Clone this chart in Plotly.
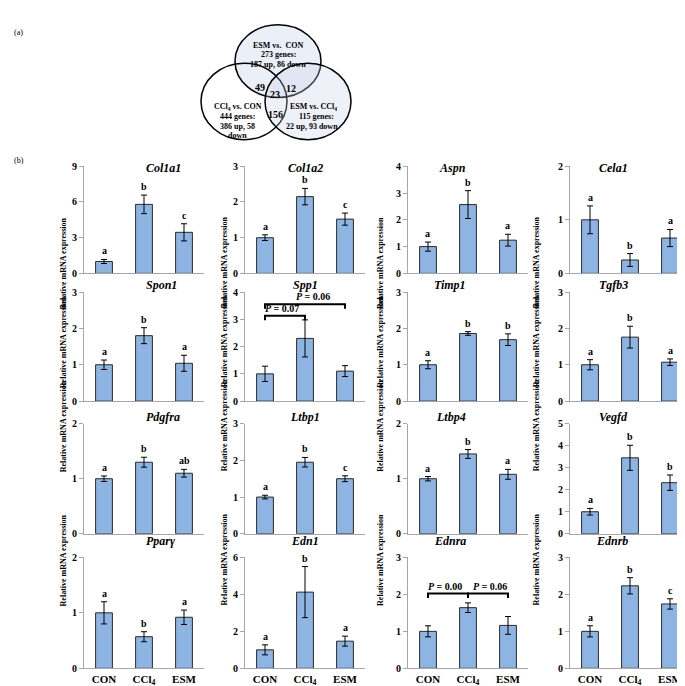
import plotly.graph_objects as go

W, H = 685, 686
FONT = "Liberation Serif"

# ---------------- data ----------------
genes = ["Col1a1", "Col1a2", "Aspn", "Cela1",
         "Spon1", "Spp1", "Timp1", "Tgfb3",
         "Pdgfra", "Ltbp1", "Ltbp4", "Vegfd",
         "Pparγ", "Edn1", "Ednra", "Ednrb"]
groups = ["CON", "CCl<sub>4</sub>", "ESM"]

col1a1 = [1.0, 5.8, 3.45];   col1a1_err = [0.17, 0.78, 0.72]
col1a2 = [1.0, 2.15, 1.52];  col1a2_err = [0.08, 0.23, 0.17]
aspn = [1.0, 2.57, 1.24];    aspn_err = [0.17, 0.52, 0.22]
cela1 = [1.0, 0.25, 0.66];   cela1_err = [0.26, 0.12, 0.16]
spon1 = [1.0, 1.8, 1.04];    spon1_err = [0.13, 0.22, 0.22]
spp1 = [1.0, 2.3, 1.1];      spp1_err = [0.28, 0.68, 0.2]
timp1 = [1.0, 1.86, 1.69];   timp1_err = [0.11, 0.05, 0.16]
tgfb3 = [1.0, 1.76, 1.07];   tgfb3_err = [0.14, 0.3, 0.09]
pdgfra = [1.0, 1.3, 1.1];    pdgfra_err = [0.05, 0.09, 0.07]
ltbp1 = [1.0, 1.95, 1.5];    ltbp1_err = [0.05, 0.13, 0.08]
ltbp4 = [1.0, 1.45, 1.08];   ltbp4_err = [0.04, 0.08, 0.09]
vegfd = [1.0, 3.45, 2.32];   vegfd_err = [0.15, 0.57, 0.35]
pparg = [1.0, 0.57, 0.92];   pparg_err = [0.2, 0.09, 0.13]
edn1 = [1.0, 4.12, 1.47];    edn1_err = [0.27, 1.38, 0.27]
ednra = [1.0, 1.64, 1.16];   ednra_err = [0.15, 0.13, 0.24]
ednrb = [1.0, 2.23, 1.74];   ednrb_err = [0.15, 0.22, 0.14]

means = [col1a1, col1a2, aspn, cela1, spon1, spp1, timp1, tgfb3,
         pdgfra, ltbp1, ltbp4, vegfd, pparg, edn1, ednra, ednrb]
errors = [col1a1_err, col1a2_err, aspn_err, cela1_err, spon1_err, spp1_err,
          timp1_err, tgfb3_err, pdgfra_err, ltbp1_err, ltbp4_err, vegfd_err,
          pparg_err, edn1_err, ednra_err, ednrb_err]

letters = [["a", "b", "c"], ["a", "b", "c"], ["a", "b", "a"], ["a", "b", "a"],
           ["a", "b", "a"], [], ["a", "b", "b"], ["a", "b", "a"],
           ["a", "b", "ab"], ["a", "b", "c"], ["a", "b", "a"], ["a", "b", "b"],
           ["a", "b", "a"], ["a", "b", "a"], [], ["a", "b", "c"]]

y_max = [9, 3, 4, 2, 3, 4, 3, 3, 2, 3, 2, 5, 2, 6, 3, 3]
y_step = [3, 1, 1, 1, 1, 1, 1, 1, 1, 1, 1, 1, 1, 2, 1, 1]

# P-value brackets: (panel index, from group, to group, level, label, label x)
brackets = [(5, 0, 1, 3.13, "<i>P</i> = 0.07", 0.42),
            (5, 0, 2, 3.55, "<i>P</i> = 0.06", 1.2),
            (14, 0, 1, 2.02, "<i>P</i> = 0.00", 0.42),
            (14, 1, 2, 2.02, "<i>P</i> = 0.06", 1.55)]

venn_lines = ["ESM vs.  CON", "273 genes:", "187 up, 86 down",
              "CCl<sub>4</sub> vs. CON", "444 genes:", "386 up, 58", "down",
              "ESM vs. CCl<sub>4</sub>", "115 genes:", "22 up, 93 down"]
venn_counts = ["49", "23", "12", "156"]

# ---------------- layout geometry (pixels) ----------------
col_left = [76, 237, 400, 562]
plot_w = 120
rows_px = [(155, 264), (283, 394), (417, 529), (553, 666)]


def px(x):
    return x / W


def py(y):
    return 1 - y / H


fig = go.Figure()
layout = {}
annotations = []
shapes = []
bold = dict(family=FONT, color="black", weight="bold")

for k, g in enumerate(genes):
    r, c = divmod(k, 4)
    idx = k + 1
    xa = "x" if idx == 1 else f"x{idx}"
    ya = "y" if idx == 1 else f"y{idx}"
    x0 = col_left[c]
    yt, yb = rows_px[r]
    fig.add_trace(go.Bar(
        x=[0, 1, 2], y=means[k], width=0.42,
        error_y=dict(type="data", array=errors[k], color="black",
                     thickness=1, width=3),
        marker=dict(color="#8DB4E2", line=dict(color="#2a2a2a", width=1)),
        xaxis=xa, yaxis=ya, showlegend=False, hoverinfo="skip"))
    bottom = (r == 3)
    layout["xaxis" if idx == 1 else f"xaxis{idx}"] = dict(
        domain=[px(x0), px(x0 + plot_w)], range=[-0.5, 2.5], anchor=ya,
        showline=True, linecolor="#a6a6a6", linewidth=1, ticks="",
        tickmode="array",
        tickvals=[0, 1, 2] if bottom else [],
        ticktext=groups if bottom else [],
        showticklabels=bottom,
        tickfont=dict(size=11, **bold), showgrid=False, zeroline=False)
    layout["yaxis" if idx == 1 else f"yaxis{idx}"] = dict(
        domain=[py(yb), py(yt)], range=[0, y_max[k]], dtick=y_step[k], tick0=0,
        anchor=xa, showline=True, linecolor="#a6a6a6", linewidth=1,
        ticks="outside", ticklen=4, tickcolor="#a6a6a6",
        tickfont=dict(size=10, **bold), showgrid=False, zeroline=False)
    # gene title
    annotations.append(dict(x=px(x0 + plot_w / 2), y=py(yt - 7), xref="paper",
                            yref="paper", text=f"<i>{g}</i>", showarrow=False,
                            font=dict(size=12, **bold)))
    # y-axis title
    annotations.append(dict(x=px(x0 - 27), y=py((yt + yb) / 2 - 5), xref="paper",
                            yref="paper", text="Relative mRNA expression",
                            textangle=-90, showarrow=False,
                            font=dict(size=8, **bold)))
    for i, lt in enumerate(letters[k]):
        annotations.append(dict(x=i, y=means[k][i] + errors[k][i], xref=xa, yref=ya,
                                text=lt, showarrow=False, yanchor="bottom", yshift=1,
                                font=dict(size=10, **bold)))

for (k, a, b, lvl, lab, lx) in brackets:
    idx = k + 1
    xa = f"x{idx}"
    ya = f"y{idx}"
    drop = y_max[k] * 0.04
    shapes.append(dict(type="path", xref=xa, yref=ya,
                       path=f"M {a},{lvl - drop} L {a},{lvl} L {b},{lvl} L {b},{lvl - drop}",
                       line=dict(color="black", width=2)))
    annotations.append(dict(x=lx, y=lvl, xref=xa, yref=ya, text=lab,
                            showarrow=False, yanchor="bottom", yshift=0,
                            font=dict(size=10, **bold)))

# ---------------- Venn diagram ----------------
def circle(cx, cy, rx, ry, fill):
    return dict(type="circle", xref="paper", yref="paper",
                x0=px(cx - rx), x1=px(cx + rx), y0=py(cy + ry), y1=py(cy - ry),
                line=dict(color="black", width=1.5), fillcolor=fill, layer="below")

shapes.append(circle(270, 48, 43, 37, "rgba(210,222,240,0.45)"))
shapes.append(circle(236, 89, 43, 39, "rgba(0,0,0,0)"))
shapes.append(circle(300, 89, 43, 39, "rgba(200,210,230,0.3)"))

venn_pos = [(270, 25), (270, 35), (270, 45),
            (230, 88), (230, 98), (230, 108), (230, 117),
            (305, 88), (308, 98), (304, 108)]
for t, (x, y) in zip(venn_lines, venn_pos):
    annotations.append(dict(x=px(x), y=py(y), xref="paper", yref="paper", text=t,
                            showarrow=False, font=dict(size=8, **bold)))
count_pos = [(252, 67), (267, 74), (283, 68), (267, 95)]
for t, (x, y) in zip(venn_counts, count_pos):
    annotations.append(dict(x=px(x), y=py(y), xref="paper", yref="paper", text=t,
                            showarrow=False, font=dict(size=10, **bold)))

annotations.append(dict(x=px(4), y=py(12), xref="paper", yref="paper", text="(a)",
                        showarrow=False, xanchor="left",
                        font=dict(family=FONT, size=8, color="black")))
annotations.append(dict(x=px(4), y=py(143), xref="paper", yref="paper", text="(b)",
                        showarrow=False, xanchor="left",
                        font=dict(family=FONT, size=8, color="black")))

fig.update_layout(**layout)
fig.update_layout(width=W, height=H, margin=dict(l=0, r=0, t=0, b=0),
                  paper_bgcolor="white", plot_bgcolor="white",
                  annotations=annotations, shapes=shapes, bargap=0.5)
fig.write_html("out.html")
